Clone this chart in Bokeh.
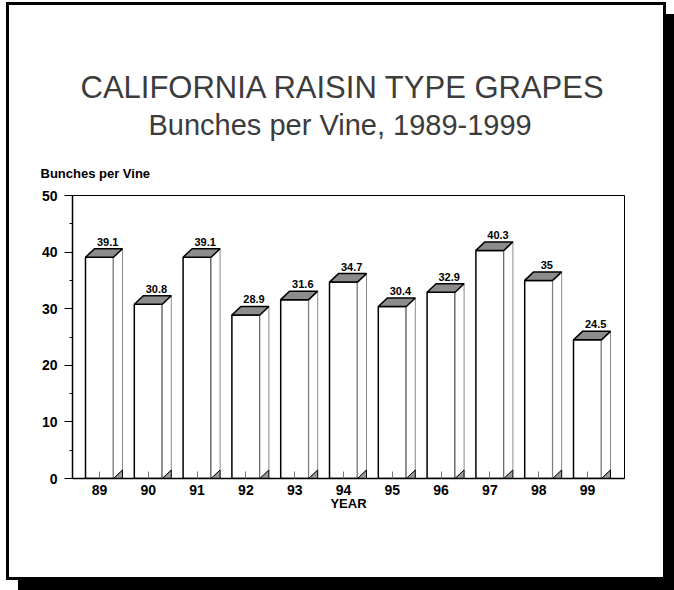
from bokeh.plotting import figure
from bokeh.models import Range1d, FixedTicker, ColumnDataSource, Title
from bokeh.core.properties import value
from bokeh.embed import file_html
from bokeh.resources import INLINE

# ---- data ----
years = ["89", "90", "91", "92", "93", "94", "95", "96", "97", "98", "99"]
bunches = [39.1, 30.8, 39.1, 28.9, 31.6, 34.7, 30.4, 32.9, 40.3, 35.0, 24.5]
y_ticks = [0, 10, 20, 30, 40, 50]
y_minor_ticks = [5, 15, 25, 35, 45]

title_text = "CALIFORNIA RAISIN TYPE GRAPES"
subtitle_text = "Bunches per Vine, 1989-1999"
y_label_text = "Bunches per Vine"
x_label_text = "YEAR"

# ---- layout (canvas pixels; canvas placed at page (6, 2)) ----
W, H = 660, 578
FL, FR, FT, FB = 66, 618, 193, 476
STEP_PX = 48.8            # px between category centres
FIRST_CENTER = 93         # canvas x of first category centre
x_start = (FL - FIRST_CENTER) / STEP_PX
x_end = x_start + (FR - FL) / STEP_PX
y_start, y_end = 0, 50
PPY = (FB - FT) / (y_end - y_start)

FONT = "Liberation Sans"

p = figure(width=W, height=H, x_range=Range1d(x_start, x_end),
           y_range=Range1d(y_start, y_end), output_backend="svg",
           toolbar_location=None, min_border_left=FL, min_border_right=W - FR,
           min_border_top=FT, min_border_bottom=H - FB,
           styles={"margin-left": "6px", "margin-top": "2px",
                   "background-color": "white",
                   "box-shadow": "inset 0px 0px 0px 3px black, 12px 12px 0px 0px black"})
p.background_fill_color = "white"
p.border_fill_color = None
p.outline_line_color = "black"
p.outline_line_width = 1
p.xgrid.visible = False
p.ygrid.visible = False

# ---- 3D bars ----
n = len(years)
xs = list(range(n))
bw = 28 / STEP_PX
dx = 9 / STEP_PX
dy = 8.5 / PPY

front = ColumnDataSource(dict(left=[x - bw / 2 for x in xs], right=[x + bw / 2 for x in xs],
                              top=bunches, bottom=[0] * n))
p.quad(left="left", right="right", top="top", bottom="bottom", source=front,
       fill_color="white", line_color="black", line_width=1.5)

side_xs = [[x + bw / 2, x + bw / 2 + dx, x + bw / 2 + dx, x + bw / 2] for x in xs]
side_ys = [[0, dy, v + dy, v] for v in bunches]
p.patches(side_xs, side_ys, fill_color="white", line_color="#8a8a8a", line_width=1)

base_xs = [[x + bw / 2, x + bw / 2 + dx, x + bw / 2 + dx] for x in xs]
base_ys = [[0, dy, 0] for v in bunches]
p.patches(base_xs, base_ys, fill_color="#9a9a9a", line_color="black", line_width=1)

top_xs = [[x - bw / 2, x - bw / 2 + dx, x + bw / 2 + dx, x + bw / 2] for x in xs]
top_ys = [[v, v + dy, v + dy, v] for v in bunches]
p.patches(top_xs, top_ys, fill_color="#8c8c8c", line_color="black", line_width=1.5)

p.text(x=[x + dx * 0.9 for x in xs], y=[v + dy for v in bunches],
       text=[f"{v:g}" for v in bunches], text_align="center", text_baseline="bottom",
       y_offset=-3, text_font=value(FONT), text_font_size="11px",
       text_font_style="bold", text_color="black")

# ---- axes ----
xa = p.xaxis[0]
xa.ticker = FixedTicker(ticks=xs)
xa.major_label_overrides = {i: years[i] for i in xs}
xa.major_tick_in = 7
xa.major_tick_out = 0
xa.major_tick_line_color = "#777777"
xa.minor_tick_line_color = None
xa.axis_line_color = "black"
xa.axis_line_width = 1.5
xa.major_label_text_font = FONT
xa.major_label_text_font_size = "14px"
xa.major_label_text_font_style = "bold"
xa.major_label_text_color = "black"
xa.major_label_standoff = 6
xa.axis_label = x_label_text
xa.axis_label_text_font = FONT
xa.axis_label_text_font_size = "13px"
xa.axis_label_text_font_style = "bold"
xa.axis_label_text_color = "black"
xa.axis_label_standoff = -2

ya = p.yaxis[0]
ya.ticker = FixedTicker(ticks=y_ticks, minor_ticks=y_minor_ticks)
ya.major_tick_in = 0
ya.major_tick_out = 8
ya.minor_tick_in = 0
ya.minor_tick_out = 3
ya.major_tick_line_color = "black"
ya.minor_tick_line_color = "black"
ya.axis_line_color = "black"
ya.axis_line_width = 1.5
ya.major_label_text_font = FONT
ya.major_label_text_font_size = "14px"
ya.major_label_text_font_style = "bold"
ya.major_label_text_color = "black"
ya.major_label_standoff = 7

# ---- titles (first added = nearest the frame) ----
p.add_layout(Title(text=y_label_text, align="left", offset=-32, standoff=29,
                   text_font=FONT, text_font_size="13px", text_font_style="bold",
                   text_color="black"), "above")
p.add_layout(Title(text=subtitle_text, align="left", offset=76, standoff=17,
                   text_font=FONT, text_font_size="29px", text_font_style="normal",
                   text_color="#3c3c3c"), "above")
p.add_layout(Title(text=title_text, align="left", offset=8, standoff=-12,
                   text_font=FONT, text_font_size="31px", text_font_style="normal",
                   text_color="#3c3c3c"), "above")

open("out.html", "w").write(file_html(p, INLINE))
